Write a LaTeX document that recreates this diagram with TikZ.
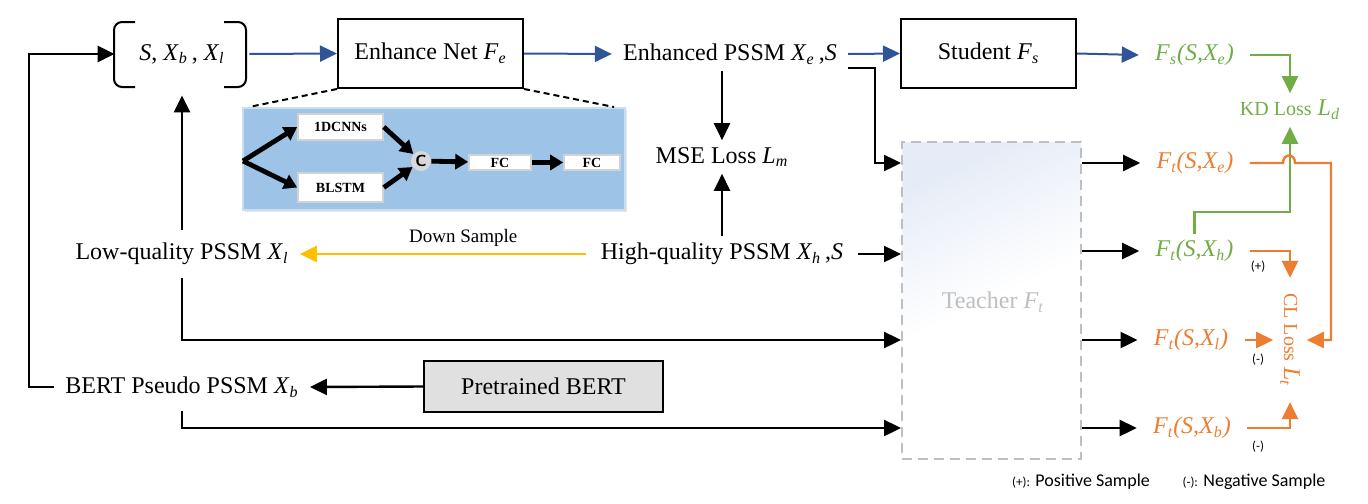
\documentclass[tikz,border=0pt]{standalone}
\usepackage{fontspec}
\setmainfont{Liberation Serif}
\newfontfamily\legfont{Carlito}
\usetikzlibrary{arrows.meta,shadows}
\definecolor{cblue}{HTML}{2F5597}
\definecolor{cgreen}{HTML}{70AD47}
\definecolor{corange}{HTML}{ED7D31}
\definecolor{cyellow}{HTML}{FFC000}
\definecolor{cinset}{HTML}{9DC3E6}
\definecolor{cgrayfill}{HTML}{E0E0E0}
\definecolor{cdash}{HTML}{BFBFBF}
\definecolor{cteach}{HTML}{E6ECF7}
\newcommand{\vv}[2]{\textit{#1}\textsubscript{\textit{#2}}}
\begin{document}
\begin{tikzpicture}[x=0.5pt,y=-0.5pt,font=\fontsize{12}{14}\selectfont,
  boxn/.style={draw,line width=1pt,inner sep=0pt},
  arr/.style={line width=1.2pt,-{Triangle[length=8.5pt,width=8pt]}},
  barr/.style={arr,draw=cblue,line width=1pt},
  garr/.style={arr,draw=cgreen},
  oarr/.style={arr,draw=corange},
  yarr/.style={arr,draw=cyellow},
  lbl/.style={inner xsep=8pt,inner ysep=3pt},
  sbox/.style={draw=gray!35,fill=white,line width=0.8pt,inner sep=0pt,font=\bfseries\fontsize{7}{8}\selectfont},
  tarr/.style={line width=2.4pt,-{Triangle[length=6.5pt,width=7.5pt]}},
  pm/.style={font=\legfont\fontsize{6.5}{8}\selectfont,inner sep=1pt}]
\useasboundingbox (0,0) rectangle (1368,503);

% ---- inset panel (Enhance Net detail)
\node[fill=cinset,draw=cinset!55!white,line width=1pt,minimum width=191pt,minimum height=51pt,
      drop shadow={shadow xshift=1pt,shadow yshift=-1pt,opacity=0.2}] (inset) at (434,159) {};
\node[sbox,minimum width=42.5pt,minimum height=13pt] (cnn) at (340.5,127) {1DCNNs};
\node[sbox,minimum width=42.5pt,minimum height=14.5pt] (lstm) at (340.5,187.5) {BLSTM};
\node[circle,fill=gray!30,inner sep=0pt,minimum size=10pt,font=\sffamily\bfseries\fontsize{8}{9}\selectfont] (cc) at (421,161) {C};
\node[sbox,minimum width=31pt,minimum height=7.5pt] (fc1) at (500,162.5) {FC};
\node[sbox,minimum width=28pt,minimum height=7.5pt] (fc2) at (592,162.5) {FC};
\coordinate (fork) at (243,161);
\draw[tarr] (fork) -- (cnn.west);
\draw[tarr] (fork) -- (lstm.west);
\draw[tarr] (cnn.east) -- (cc);
\draw[tarr] (lstm.east) -- (cc);
\draw[tarr] (cc) -- (fc1);
\draw[tarr] (fc1) -- (fc2);

% ---- main nodes
\node[minimum width=67pt,minimum height=41pt,inner sep=0pt] (inp) at (182,54) {\textit{S}, \vv{X}{b}\,, \vv{X}{l}};
\draw[line width=1pt,rounded corners=4pt] (135,22) -- (114,22) -- (114,87) -- (135,87);
\draw[line width=1pt,rounded corners=4pt] (224,22) -- (246,22) -- (246,87) -- (224,87);
\node[boxn,minimum width=92.5pt,minimum height=34.5pt] (enh) at (430.5,53.5) {Enhance Net \vv{F}{e}};
\node[inner xsep=5.5pt] (epssm) at (730,54) {Enhanced PSSM \vv{X}{e}\,,\textit{S}};
\node[boxn,minimum width=87.5pt,minimum height=34.5pt] (stu) at (988.5,53.5) {Student \vv{F}{s}};
\node[lbl,text=cgreen] (fse) at (1194.5,55) {\textit{F\textsubscript{s}(S,X\textsubscript{e})}};
\node[text=cgreen] (kd) at (1290,110) {{\fontsize{10}{12}\selectfont KD Loss} \vv{L}{d}};
\node (mse) at (722,157) {MSE Loss \vv{L}{m}};
\node[inner xsep=7pt] (hq) at (722,254) {High-quality PSSM \vv{X}{h}\,,\textit{S}};
\node[inner xsep=5.5pt,inner ysep=6.5pt] (lq) at (182,254) {Low-quality PSSM \vv{X}{l}};
\node[inner xsep=5.5pt,inner ysep=6.5pt] (bert) at (182,387) {BERT Pseudo PSSM \vv{X}{b}};
\node[boxn,fill=cgrayfill,minimum width=119.5pt,minimum height=25.5pt] (pbert) at (543.5,386.5) {Pretrained BERT};
\node[draw=cdash,dash pattern=on 5pt off 3pt,line width=1pt,minimum width=89.5pt,minimum height=158.5pt,
      top color=cteach,bottom color=white,middle color=white,shading angle=25] (teacher) at (991.5,300.5) {};
\node[text=cdash] (teachtxt) at (993,302) {Teacher \vv{F}{t}};
\node[lbl,text=corange] (fte) at (1195,163) {\textit{F\textsubscript{t}(S,X\textsubscript{e})}};
\node[lbl,text=cgreen] (fth) at (1194.5,251) {\textit{F\textsubscript{t}(S,X\textsubscript{h})}};
\node[lbl,text=corange] (ftl) at (1191,340) {\textit{F\textsubscript{t}(S,X\textsubscript{l})}};
\node[lbl,text=corange] (ftb) at (1192,428) {\textit{F\textsubscript{t}(S,X\textsubscript{b})}};
\node[text=corange,rotate=-90,inner xsep=7.5pt] (cl) at (1290,340) {{\fontsize{10}{12}\selectfont CL Loss} \vv{L}{t}};
\node[pm] (p1) at (1258,267) {(+)};
\node[pm] (m1) at (1258,360) {(-)};
\node[pm] (m2) at (1258,447) {(-)};
\node[font=\legfont\fontsize{9}{11}\selectfont] (leg1) at (1081,482) {{\fontsize{6.5}{8}\selectfont(+):} Positive Sample};
\node[font=\legfont\fontsize{9}{11}\selectfont] (leg2) at (1254,482) {{\fontsize{6.5}{8}\selectfont(-):} Negative Sample};

% ---- dotted zoom lines
\draw[line width=1pt,dash pattern=on 3pt off 2pt] (enh.south west) -- ([xshift=3.5pt]inset.north west);
\draw[line width=1pt,dash pattern=on 3pt off 2pt] (enh.south east) -- ([xshift=-6pt]inset.north east);

% ---- connectors
\coordinate (lp) at (29,0);
\coordinate (gk) at (0,212);
\draw[barr] (inp.east) -- (enh.west);
\draw[barr] (enh.east) -- (epssm.west);
\draw[barr] (epssm.east) -- (stu.west);
\draw[barr] (stu.east) -- (fse.west);
\draw[arr] ([yshift=-7pt]epssm.east) -- ++(27,0) |- (teacher.west |- fte);
\draw[arr] (mse.north |- epssm.south) -- (mse.north);
\draw[arr] (mse.south |- hq.north) -- (mse.south);
\draw[yarr] (hq.west) -- (lq.east) node[pos=0.43,above=0pt,text=black,font=\fontsize{9.5}{11}\selectfont] {Down Sample};
\draw[arr] (hq.east) -- (hq.east -| teacher.west);
\draw[arr] (lq.north) -- (lq.north |- inp.south);
\draw[arr] (lq.south) |- (teacher.west |- ftl);
\draw[arr] (bert.south) |- (teacher.west |- ftb);
\draw[arr] (pbert.west) -- (bert.east);
\draw[arr] (bert.west) -- (bert.west -| lp) |- (inp.west);
\foreach \n in {fte,fth,ftl,ftb} \draw[arr] (teacher.east |- \n) -- (\n.west);
\draw[garr] (fse.east) -| (kd.north);
\draw[garr] (fth.north) -- (fth.north |- gk) -| (kd.south);
\draw[oarr] (fte.east) -- (1283,163) .. controls (1283,153) and (1295,153) .. (1295,163) -- (1331,163) |- (cl.north);
\draw[oarr] (fth.east) -| (cl.west);
\draw[oarr] (ftl.east) -- (cl.south);
\draw[oarr] (ftb.east) -| (cl.east);
\end{tikzpicture}
\end{document}
